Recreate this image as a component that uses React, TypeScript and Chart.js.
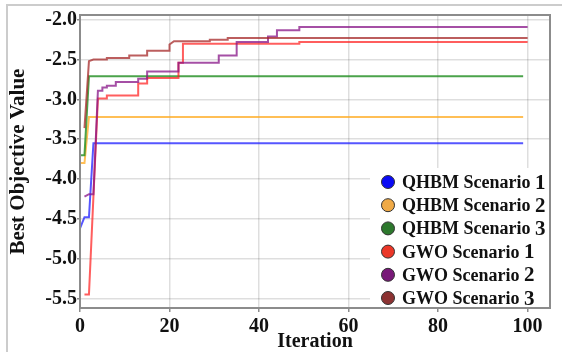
import React, { useEffect, useRef } from "react";
import { Chart, registerables } from "chart.js";

Chart.register(...registerables);

// ---- Data ----
const seriesLabels = [
  "QHBM Scenario 1",
  "QHBM Scenario 2",
  "QHBM Scenario 3",
  "GWO Scenario 1",
  "GWO Scenario 2",
  "GWO Scenario 3",
];

const qhbm1X = [0, 1, 2, 3, 99];
const qhbm1Y = [-4.62, -4.48, -4.48, -3.55, -3.55];

const qhbm2X = [0, 1, 2, 99];
const qhbm2Y = [-3.8, -3.8, -3.22, -3.22];

const qhbm3X = [0, 1, 2, 99];
const qhbm3Y = [-3.7, -3.7, -2.71, -2.71];

const gwo1X = [1, 2, 4, 6, 6, 13, 13, 15, 15, 22, 22, 23, 23, 49, 49, 100];
const gwo1Y = [-5.45, -5.45, -2.99, -2.99, -2.95, -2.95, -2.8, -2.8, -2.73, -2.73, -2.54, -2.54, -2.3, -2.3, -2.28, -2.28];

const gwo2X = [1, 2, 3, 4, 5, 5, 6, 6, 8, 8, 13, 13, 15, 15, 22, 22, 31, 31, 35, 35, 42, 42, 44, 44, 49, 49, 100];
const gwo2Y = [-4.22, -4.19, -4.19, -2.89, -2.89, -2.85, -2.85, -2.83, -2.83, -2.78, -2.78, -2.74, -2.74, -2.65, -2.65, -2.54, -2.54, -2.45, -2.45, -2.28, -2.28, -2.21, -2.21, -2.13, -2.13, -2.09, -2.09];

const gwo3X = [1, 2, 3, 6, 6, 11, 11, 15, 15, 20, 20, 21, 29, 29, 33, 33, 100];
const gwo3Y = [-3.36, -2.52, -2.5, -2.5, -2.48, -2.48, -2.45, -2.45, -2.39, -2.39, -2.31, -2.27, -2.27, -2.25, -2.25, -2.23, -2.23];

const seriesX = [qhbm1X, qhbm2X, qhbm3X, gwo1X, gwo2X, gwo3X];
const seriesY = [qhbm1Y, qhbm2Y, qhbm3Y, gwo1Y, gwo2Y, gwo3Y];

const xTickValues = [0, 20, 40, 60, 80, 100];
const yTickValues = [-5.5, -5.0, -4.5, -4.0, -3.5, -3.0, -2.5, -2.0];

// ---- Styles ----
const lineColors = [
  "rgba(30,30,255,0.75)",
  "rgba(255,170,30,0.75)",
  "rgba(30,140,30,0.8)",
  "rgba(255,25,25,0.7)",
  "rgba(135,20,135,0.75)",
  "rgba(165,40,40,0.75)",
];
const markerColors = [
  "rgb(10,10,245)",
  "rgb(240,170,70)",
  "rgb(45,120,45)",
  "rgb(235,55,40)",
  "rgb(120,25,120)",
  "rgb(140,50,50)",
];

const SERIF = "'Liberation Serif', 'Times New Roman', serif";

export default function App() {
  const canvasRef = useRef<HTMLCanvasElement | null>(null);

  useEffect(() => {
    document.body.style.margin = "0";
    const canvas = canvasRef.current;
    if (!canvas) return;

    const legendPlugin = {
      id: "boxLegend",
      afterDatasetsDraw(chart: any) {
        const ctx = chart.ctx as CanvasRenderingContext2D;
        const a = chart.chartArea;
        const boxL = a.right - 180;
        const boxT = a.bottom - 140;
        ctx.save();
        ctx.fillStyle = "#ffffff";
        ctx.fillRect(boxL, boxT, a.right - boxL - 1, a.bottom - boxT - 1);
        seriesLabels.forEach((label, i) => {
          const cy = boxT + 14 + i * 23.2;
          ctx.beginPath();
          ctx.arc(boxL + 18, cy, 6.5, 0, Math.PI * 2);
          ctx.fillStyle = markerColors[i];
          ctx.fill();
          ctx.lineWidth = 1;
          ctx.strokeStyle = "#333";
          ctx.stroke();
          const prefix = label.slice(0, label.length - 1);
          const digit = label.slice(label.length - 1);
          ctx.fillStyle = "#111";
          ctx.textBaseline = "alphabetic";
          ctx.textAlign = "left";
          ctx.font = `bold 18px ${SERIF}`;
          const baseY = cy + 6;
          ctx.fillText(prefix, boxL + 32, baseY);
          const w = ctx.measureText(prefix).width;
          ctx.font = `bold 21px ${SERIF}`;
          ctx.fillText(digit, boxL + 32 + w, baseY + 0.5);
        });
        ctx.restore();
      },
      afterDraw(chart: any) {
        const ctx = chart.ctx as CanvasRenderingContext2D;
        const a = chart.chartArea;
        ctx.save();
        ctx.strokeStyle = "#8c8c8c";
        ctx.lineWidth = 2;
        ctx.strokeRect(a.left, a.top, a.right - a.left, a.bottom - a.top);
        ctx.restore();
      },
    };

    const chart = new Chart(canvas, {
      type: "line",
      data: {
        datasets: seriesLabels.map((label, i) => ({
          label,
          data: seriesX[i].map((x, k) => ({ x, y: seriesY[i][k] })),
          borderColor: lineColors[i],
          backgroundColor: lineColors[i],
          borderWidth: 2,
          pointRadius: 0,
          tension: 0,
          fill: false,
          order: seriesLabels.length - i,
        })),
      },
      options: {
        animation: false,
        responsive: false,
        layout: { padding: { top: 15, right: 12, left: 0, bottom: 0 } },
        plugins: {
          legend: { display: false },
          tooltip: { enabled: false },
        },
        scales: {
          x: {
            type: "linear",
            min: 0,
            max: 105,
            afterFit: (s: any) => {
              s.height = 44;
            },
            afterBuildTicks: (s: any) => {
              s.ticks = xTickValues.map((v) => ({ value: v }));
            },
            ticks: {
              stepSize: 20,
              includeBounds: false,
              maxRotation: 0,
              padding: 3,
              color: "#111",
              font: { family: SERIF, size: 20, weight: "bold" },
            },
            grid: {
              color: "rgba(0,0,0,0.13)",
              lineWidth: 1.5,
              tickLength: 4,
              tickColor: "#8c8c8c",
            },
            border: { color: "#8c8c8c", width: 2 },
            title: {
              display: true,
              text: "Iteration",
              color: "#111",
              padding: 0,
              font: { family: SERIF, size: 20, weight: "bold", lineHeight: 1 },
            },
          },
          y: {
            type: "linear",
            min: -5.62,
            max: -1.94,
            afterFit: (s: any) => {
              s.width = 80;
            },
            afterBuildTicks: (s: any) => {
              s.ticks = yTickValues.map((v) => ({ value: v }));
            },
            ticks: {
              stepSize: 0.5,
              includeBounds: false,
              padding: 0,
              color: "#111",
              font: { family: SERIF, size: 20, weight: "bold" },
              callback: (v: any) => Number(v).toFixed(1),
            },
            grid: {
              color: "rgba(0,0,0,0.13)",
              lineWidth: 1.5,
              tickLength: 3,
              tickColor: "#8c8c8c",
            },
            border: { color: "#8c8c8c", width: 2 },
            title: {
              display: true,
              text: "Best Objective Value",
              color: "#111",
              padding: { top: 8.5, bottom: 0 },
              font: { family: SERIF, size: 21, weight: "bold", lineHeight: 1 },
            },
          },
        },
      },
      plugins: [legendPlugin],
    } as any);

    return () => {
      chart.destroy();
    };
  }, []);

  return (
    <div style={{ position: "relative", width: 562, height: 352, overflow: "hidden", background: "#fff" }}>
      <div
        style={{
          position: "absolute",
          left: 6,
          top: 4,
          width: 700,
          height: 500,
          border: "2px solid #cccccc",
          boxSizing: "border-box",
        }}
      />
      <canvas
        ref={canvasRef}
        width={562}
        height={352}
        style={{ position: "absolute", left: 0, top: 0, width: 562, height: 352 }}
      />
    </div>
  );
}
